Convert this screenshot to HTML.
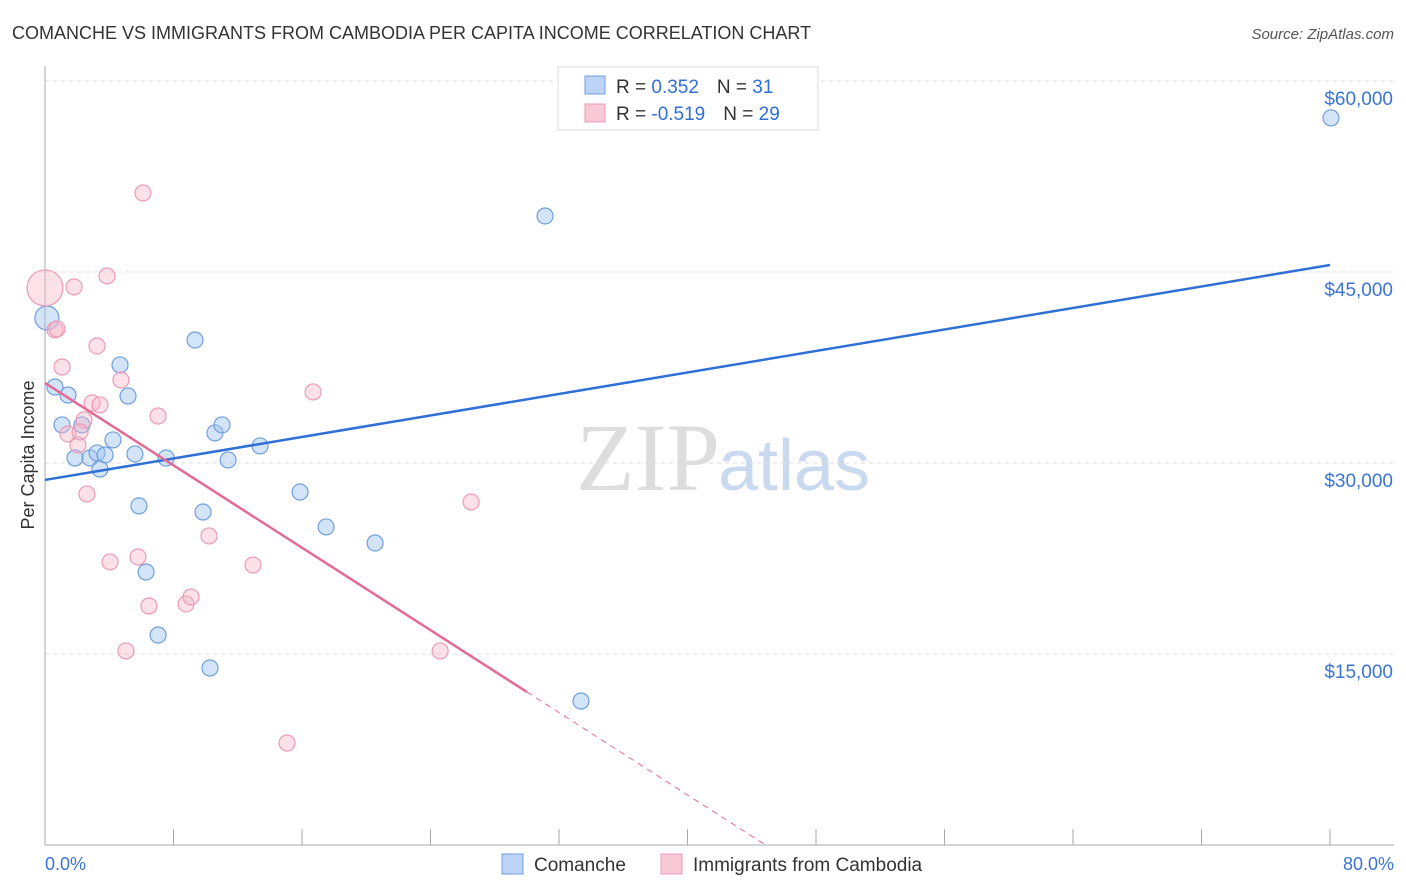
<!DOCTYPE html>
<html><head><meta charset="utf-8"><style>
body{margin:0;background:#fff;font-family:"Liberation Sans",sans-serif;}
svg{display:block}
</style></head><body>
<svg id="chart" width="1406" height="892">
<text x="12" y="39" font-size="18" fill="#333">COMANCHE VS IMMIGRANTS FROM CAMBODIA PER CAPITA INCOME CORRELATION CHART</text>
<text x="1394" y="39" font-size="15" fill="#555" font-style="italic" text-anchor="end">Source: ZipAtlas.com</text>
<text x="720" y="490" font-size="96" fill="#ddd" text-anchor="end" font-family="Liberation Serif,serif">ZIP</text>
<text x="718" y="490" font-size="72" fill="#c9d9ef">atlas</text>
<g id="grid"></g><g id="axes"></g><g id="marks"></g>
<text transform="translate(34,455) rotate(-90)" font-size="18" fill="#333" text-anchor="middle">Per Capita Income</text>
<text x="45" y="870" font-size="18" fill="#3b74d4">0.0%</text>
<text x="1394" y="870" font-size="18" fill="#3b74d4" text-anchor="end">80.0%</text>
<g>
<rect x="558" y="67" width="260" height="63" fill="#fff" stroke="#ddd"/>
<rect x="585" y="76" width="20" height="18" fill="#bcd3f5" stroke="#6f9fe0"/>
<rect x="585" y="104" width="20" height="18" fill="#f9c9d8" stroke="#ec9ab5"/>
<text x="616" y="93" font-size="19" fill="#333">R = <tspan fill="#2f6fd6"> 0.352</tspan><tspan dx="18">N = </tspan><tspan fill="#2f6fd6"> 31</tspan></text>
<text x="616" y="120" font-size="19" fill="#333">R = <tspan fill="#2f6fd6">-0.519</tspan><tspan dx="18">N = </tspan><tspan fill="#2f6fd6">29</tspan></text>
</g>
<g>
<rect x="502" y="854" width="21" height="20" fill="#bcd3f5" stroke="#6f9fe0"/>
<text x="534" y="871" font-size="19" fill="#333">Comanche</text>
<rect x="661" y="854" width="21" height="20" fill="#f9c9d8" stroke="#ec9ab5"/>
<text x="693" y="871" font-size="19" fill="#333">Immigrants from Cambodia</text>
</g>
</svg>
<script>
const yTicks=[15000,30000,45000,60000];
const yTickLabels=["$15,000","$30,000","$45,000","$60,000"];
const xTicks=[0,8,16,24,32,40,48,56,64,72,80];
const comancheX=[0.12,0.62,1.43,1.06,2.30,1.87,2.80,3.24,3.74,3.42,4.23,4.67,5.17,5.60,5.85,6.29,7.04,7.54,9.34,9.84,10.27,10.58,11.02,11.40,13.39,15.88,17.50,20.55,31.13,33.37,80.06];
const comancheY=[41390,35970,35340,32990,32990,30390,30390,30790,30630,29530,31810,37700,35260,30710,26630,21440,16490,30390,39660,26150,13900,32360,32990,30240,31340,27720,24980,23720,49400,11310,57100];
const cambodiaX=[0,0.62,1.06,1.81,1.43,2.05,2.43,2.61,2.93,3.24,3.42,3.86,4.05,4.73,5.04,5.79,6.10,6.47,7.04,8.78,9.09,10.21,12.95,15.07,16.69,24.60,26.53,0.75,2.18];
const cambodiaY=[43750,40450,37540,43830,32280,31420,33380,27570,34710,39190,34560,44690,22230,36520,15240,22620,51210,18770,33690,18930,19480,24270,21990,8010,35580,15240,26940,40530,32440];
const blueTrend=[28670,45550];
const pinkTrend=[36290,-809];
const NS="http://www.w3.org/2000/svg";
const X=p=>45+p*(1285/80), Y=v=>845-v*191/15000;
function mk(t,a,parent){const e=document.createElementNS(NS,t);for(const k in a)e.setAttribute(k,a[k]);document.getElementById(parent).appendChild(e);return e;}
yTicks.forEach((v,i)=>{
 const l=mk('line',{x1:45,x2:1394,y1:Y(v),y2:Y(v),stroke:'#ddd','stroke-dasharray':'4,4'},'grid');
 
 
 const t=mk('text',{x:1393,y:Y(v)+24,'font-size':19,fill:'#3b74d4','text-anchor':'end'},'grid');
 t.textContent=yTickLabels[i];
 
 
});
mk('line',{x1:45,x2:45,y1:66,y2:845,stroke:'#aaa'},'axes');
const xa=mk('line',{x1:45,x2:1394,y1:845,y2:845,stroke:'#aaa'},'axes');


xTicks.forEach(p=>{const t=mk('line',{x1:X(p),x2:X(p),y1:829,y2:845,stroke:'#aaa'},'axes');
 
 });
comancheX.forEach((p,i)=>{const c=mk('circle',{cx:X(p),cy:Y(comancheY[i]),r:i==0?12:8,fill:'rgba(160,195,240,0.45)',stroke:'#6f9fe0','stroke-width':1.2},'marks');
 
 });
cambodiaX.forEach((p,i)=>{const c=mk('circle',{cx:X(p),cy:Y(cambodiaY[i]),r:i==0?18:8,fill:'rgba(247,180,200,0.4)',stroke:'#ec9ab5','stroke-width':1.2},'marks');
 
 });
const bl=mk('line',{x1:X(0),y1:Y(blueTrend[0]),x2:X(80),y2:Y(blueTrend[1]),stroke:'#2f6fd6','stroke-width':2.5},'marks');


const pv=p=>pinkTrend[0]+pinkTrend[1]*p;
const pEnd=30, pZero=-pinkTrend[0]/pinkTrend[1];
const pl=mk('line',{x1:X(0),y1:Y(pv(0)),x2:X(pEnd),y2:Y(pv(pEnd)),stroke:'#e46a96','stroke-width':2.5},'marks');


const pd=mk('line',{x1:X(pEnd),y1:Y(pv(pEnd)),x2:X(pZero),y2:Y(0),stroke:'#e46a96','stroke-width':1,'stroke-dasharray':'6,5'},'marks');


</script>
</body></html>
